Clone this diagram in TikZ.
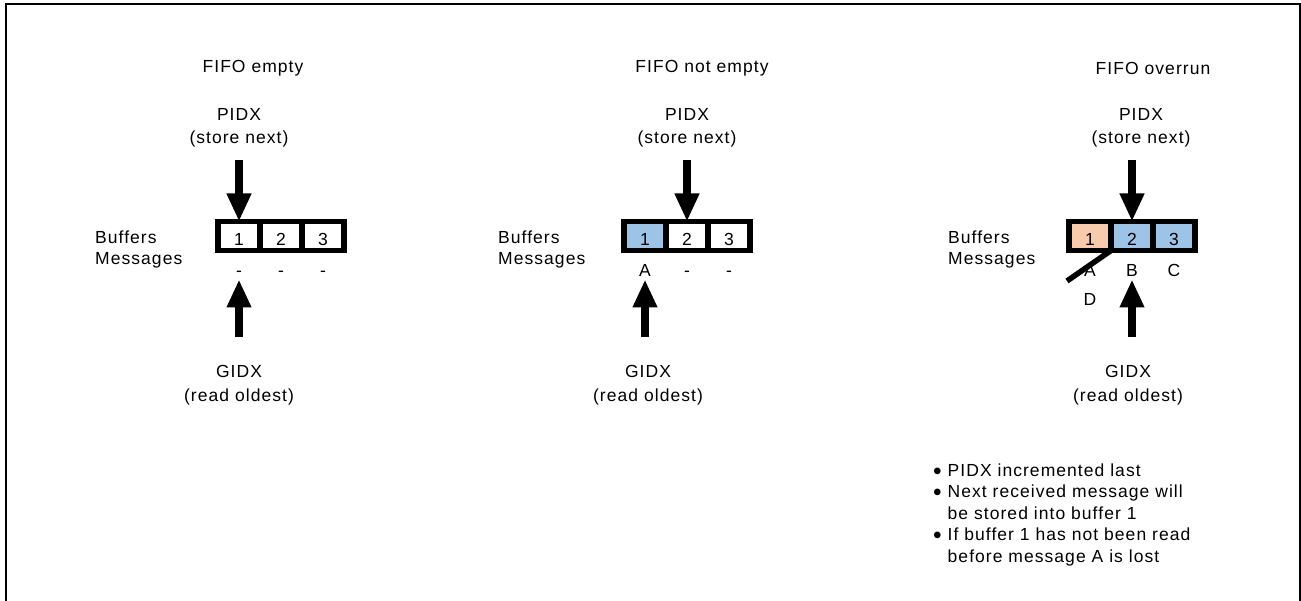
\documentclass[tikz,border=0pt]{standalone}
\usepackage{fontspec}
\setmainfont{Liberation Sans}[LetterSpace=6]
\usetikzlibrary{positioning,arrows.meta}

\definecolor{bufblue}{RGB}{157,195,230}
\definecolor{buforange}{RGB}{248,203,173}
\newcommand\bul{\raisebox{-0.17em}{\scalebox{1.4}{\textbullet}}}

\begin{document}
\begin{tikzpicture}[x=1pt,y=-1pt,font=\fontsize{17.5}{21.5}\selectfont,
    cell/.style={draw,line width=5.5pt,minimum width=42pt,minimum height=29pt,
                 text height=20pt,text depth=0pt,inner sep=0pt,outer sep=0pt},
    msg/.style={inner sep=0pt,text height=12.5pt,text depth=0pt},
    lbl/.style={align=center,inner sep=0pt},
    side/.style={align=left,anchor=north west,inner sep=0pt},
    idx/.style={line width=8pt,-{Triangle[width=23pt,length=28pt]}},
    cut/.style={line width=5.5pt}]
    \useasboundingbox (0,0) rectangle (1301,601);
    \draw[line width=2pt] (6,601) -- (6,4) -- (1299.5,4) -- (1299.5,601);

    % FIFO empty
    \node[lbl] (ta) at (253,68) {FIFO empty};
    \node[side] (sa) at (95,230.5) {Buffers\\Messages};
    \node[cell] (a1) at (239,236) {1};
    \node[cell,right=0pt of a1] (a2) {2};
    \node[cell,right=0pt of a2] (a3) {3};
    \node[msg,below=13pt of a1] (ma1) {-};
    \node[msg,below=13pt of a2] (ma2) {-};
    \node[msg,below=13pt of a3] (ma3) {-};
    \coordinate[above=61pt of a1.north] (pa);
    \coordinate[below=29pt of a1.south] (ga);
    \coordinate[below=58pt of ga] (gb);
    \draw[idx] (pa) -- (a1.north);
    \draw[idx] (gb) -- (ga);
    \node[lbl,above=13pt of pa] (pla) {PIDX\\[2pt](store next)};
    \node[lbl,below=28pt of gb] (gla) {GIDX\\[2pt](read oldest)};

    % FIFO not empty
    \node[lbl] (tb) at (702,68) {FIFO not empty};
    \node[side] (sb) at (498,230.5) {Buffers\\Messages};
    \node[cell,fill=bufblue] (b1) at (645,236) {1};
    \node[cell,right=0pt of b1] (b2) {2};
    \node[cell,right=0pt of b2] (b3) {3};
    \node[msg,below=13pt of b1] (mb1) {A};
    \node[msg,below=13pt of b2] (mb2) {-};
    \node[msg,below=13pt of b3] (mb3) {-};
    \coordinate[above=61pt of b2.north] (pb);
    \coordinate[below=29pt of b1.south] (gc);
    \coordinate[below=58pt of gc] (gd);
    \draw[idx] (pb) -- (b2.north);
    \draw[idx] (gd) -- (gc);
    \node[lbl,above=13pt of pb] (plb) {PIDX\\[2pt](store next)};
    \node[lbl,below=28pt of gd,xshift=3pt] (glb) {GIDX\\[2pt](read oldest)};

    % FIFO overrun
    \node[lbl] (tc) at (1153,68) {FIFO overrun};
    \node[side] (sc) at (948,230.5) {Buffers\\Messages};
    \node[cell,fill=buforange] (c1) at (1090,236) {1};
    \node[cell,fill=bufblue,right=0pt of c1] (c2) {2};
    \node[cell,fill=bufblue,right=0pt of c2] (c3) {3};
    \node[msg,below=13pt of c1] (mc1) {A};
    \node[msg,below=13pt of c2] (mc2) {B};
    \node[msg,below=13pt of c3] (mc3) {C};
    \node[msg,below=16pt of mc1] (mc4) {D};
    \coordinate (xc) at (1067,281);
    \draw[cut] (c1.south east) -- (xc);
    \coordinate[above=61pt of c2.north] (pc);
    \coordinate[below=29pt of c2.south] (ge);
    \coordinate[below=58pt of ge] (gf);
    \draw[idx] (pc) -- (c2.north);
    \draw[idx] (gf) -- (ge);
    \node[lbl,above=13pt of pc,xshift=9pt] (plc) {PIDX\\[2pt](store next)};
    \node[lbl,below=28pt of gf,xshift=-4pt] (glc) {GIDX\\[2pt](read oldest)};

    \node[side] (notes) at (933,463.5) {%
        \bul{} PIDX incremented last\\
        \bul{} Next received message will\\
        \hphantom{\bul{} }be stored into buffer 1\\
        \bul{} If buffer 1 has not been read\\
        \hphantom{\bul{} }before message A is lost};
\end{tikzpicture}
\end{document}
